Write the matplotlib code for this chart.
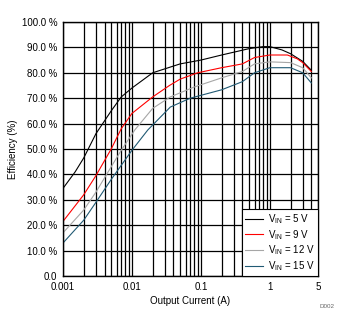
import matplotlib
matplotlib.use("Agg")
import matplotlib.pyplot as plt
from matplotlib.ticker import FixedLocator, FixedFormatter, NullFormatter

plt.rcParams['font.family'] = ['Liberation Sans', 'DejaVu Sans']
plt.rcParams['font.size'] = 7

# output current (A) and efficiency (%)
i_5v = [0.001, 0.0015, 0.002, 0.003, 0.005, 0.007, 0.01, 0.02, 0.05, 0.1, 0.2, 0.5, 0.8, 1.0, 1.5, 2, 3, 4]
eff_5v = [34.5, 41, 46.5, 56, 65, 70.5, 74, 80, 83.5, 85, 87, 89.5, 90.3, 90.3, 89, 87.5, 84.5, 81]

i_9v = [0.001, 0.002, 0.003, 0.005, 0.007, 0.01, 0.02, 0.035, 0.05, 0.09, 0.2, 0.4, 0.6, 1.0, 1.8, 2.5, 3, 4]
eff_9v = [21.5, 32, 39.5, 50, 58, 64, 70.5, 75, 77.5, 80, 82, 83.5, 86, 87, 87, 85.5, 84, 80.5]

i_12v = [0.001, 0.002, 0.003, 0.005, 0.007, 0.011, 0.02, 0.036, 0.08, 0.2, 0.4, 0.6, 1.0, 2, 3, 4]
eff_12v = [17, 26, 33, 43, 49.5, 57.5, 66, 70.5, 74.4, 78, 80.5, 83.5, 84.3, 84, 82, 78]

i_15v = [0.001, 0.002, 0.003, 0.005, 0.01, 0.017, 0.036, 0.07, 0.2, 0.4, 0.6, 1.0, 2, 3, 4]
eff_15v = [13, 22, 29, 38, 49.5, 57.5, 66.5, 70, 73.3, 76.5, 80, 82, 82, 80, 76]

labels = ['V$_{\\mathregular{IN}}$ = 5 V', 'V$_{\\mathregular{IN}}$ = 9 V',
          'V$_{\\mathregular{IN}}$ = 12 V', 'V$_{\\mathregular{IN}}$ = 15 V']
colors = ['#000000', '#FF0000', '#A6A6A6', '#215A74']

fig = plt.figure(figsize=(3.47, 3.28), dpi=100)
ax = fig.add_axes([0.1816, 0.1585, 0.7348, 0.7745])

for x, y, lab, c in zip([i_5v, i_9v, i_12v, i_15v], [eff_5v, eff_9v, eff_12v, eff_15v], labels, colors):
    ax.plot(x, y, color=c, lw=0.8, label=lab)

ax.set_xscale('log')
ax.set_xlim(0.001, 5)
ax.set_ylim(0, 100)

major = [0.001, 0.01, 0.1, 1, 5]
minor = [m * d for d in [0.001, 0.01, 0.1] for m in range(2, 10)] + [2, 3, 4]
ax.xaxis.set_major_locator(FixedLocator(major))
ax.xaxis.set_major_formatter(FixedFormatter(['0.001', '0.01', '0.1', '1', '5']))
ax.xaxis.set_minor_locator(FixedLocator(minor))
ax.xaxis.set_minor_formatter(NullFormatter())

yt = list(range(0, 101, 10))
ax.set_yticks(yt)
ax.set_yticklabels(['0.0'] + ['%.1f %%' % v for v in yt[1:]])

ax.grid(True, which='both', axis='x', color='black', lw=0.9)
ax.grid(True, which='major', axis='y', color='black', lw=0.9)
ax.tick_params(which='both', length=0, pad=4)
for s in ax.spines.values():
    s.set_linewidth(1)

ax.set_xlabel('Output Current (A)', labelpad=3)
ax.set_ylabel('Efficiency (%)', labelpad=3)

leg = ax.legend(loc='lower right', fancybox=False, framealpha=1, edgecolor='black',
                borderaxespad=0, handlelength=1.9, handletextpad=0.5, labelspacing=0.2,
                borderpad=0.3)
leg.get_frame().set_linewidth(0.8)

fig.text(0.965, 0.06, 'D002', fontsize=4.5, color='#666666', ha='right')

fig.savefig('out.png', dpi=100)
